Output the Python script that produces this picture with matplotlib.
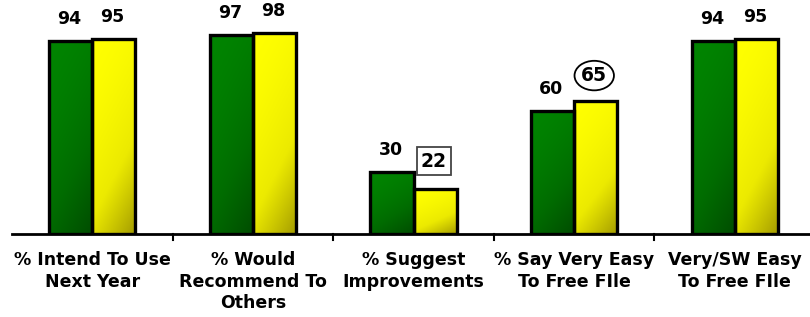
import numpy as np
import matplotlib
matplotlib.use("Agg")
import matplotlib.pyplot as plt
from matplotlib.colors import LinearSegmentedColormap

categories = ["% Intend To Use\nNext Year", "% Would\nRecommend To\nOthers",
              "% Suggest\nImprovements", "% Say Very Easy\nTo Free FIle",
              "Very/SW Easy\nTo Free FIle"]
series_a = [94, 97, 30, 60, 94]
series_b = [95, 98, 22, 65, 95]

W, H = 810, 317
fig = plt.figure(figsize=(W / 100, H / 100), dpi=100)
left_px, right_px, base_px = 12, 815, 234
ax = fig.add_axes([left_px / W, (H - base_px) / H, (right_px - left_px) / W, base_px / H])
ax.axis("off")

x = np.arange(len(categories)) + 0.5
bw = 0.268

green = LinearSegmentedColormap.from_list("g", ["#008400", "#006c00", "#004c00"])
yellow = LinearSegmentedColormap.from_list("y", ["#ffff00", "#ecea00", "#a49c00"])

def grad_fill(bar, cmap):
    x0, y0 = bar.get_x(), bar.get_y()
    w, h = bar.get_width(), bar.get_height()
    n = 64
    gx, gy = np.meshgrid(np.linspace(0, 1, n), np.linspace(0, 1, n))
    z = 0.3 * gx + 0.7 * (1 - gy)
    z = z ** 1.6
    im = ax.imshow(z, extent=[x0, x0 + w, y0, y0 + h], origin="lower",
                   cmap=cmap, vmin=0, vmax=1, aspect="auto", zorder=2,
                   interpolation="bilinear")
    im.set_clip_path(bar)

bars_a = ax.bar(x - bw / 2, series_a, bw, facecolor="none", edgecolor="black",
                linewidth=2.4, zorder=3)
bars_b = ax.bar(x + bw / 2, series_b, bw, facecolor="none", edgecolor="black",
                linewidth=2.4, zorder=3)
for b in bars_a:
    grad_fill(b, green)
for b in bars_b:
    grad_fill(b, yellow)
ax.set_xlim(0, len(categories))
ax.set_ylim(0, 114)

font = dict(family="DejaVu Sans", fontweight="bold", fontsize=12.5)

for b, v in zip(bars_a, series_a):
    ax.annotate(str(v), (b.get_x() + b.get_width() / 2, v), xytext=(-1, 16),
                textcoords="offset points", ha="center", va="center", **font)
for i, (b, v) in enumerate(zip(bars_b, series_b)):
    dy = 16
    bbox = None
    fs = 12.5
    if i == 2:
        dy = 20
        fs = 13.5
        bbox = dict(boxstyle="square,pad=0.22", facecolor="white", edgecolor="#444444", linewidth=1.3)
    elif i == 3:
        dy = 18
        fs = 13.5
        bbox = dict(boxstyle="ellipse,pad=0.05", facecolor="white", edgecolor="black", linewidth=1.3)
    ax.annotate(str(v), (b.get_x() + b.get_width() / 2, v), xytext=(-1, dy),
                textcoords="offset points", ha="center", va="center", bbox=bbox,
                family="DejaVu Sans", fontweight="bold", fontsize=fs)

# axis line and separators
ax.plot([0, len(categories)], [0, 0], color="black", lw=2, clip_on=False, zorder=4)
for k in range(1, len(categories)):
    ax.plot([k, k], [0, -3], color="black", lw=1.5, clip_on=False, zorder=4)

for xi, c in zip(x, categories):
    ax.text(xi, -8.5, c, ha="center", va="top", linespacing=1.25,
            family="DejaVu Sans", fontweight="bold", fontsize=12.5)

fig.savefig("out.png", dpi=100)
